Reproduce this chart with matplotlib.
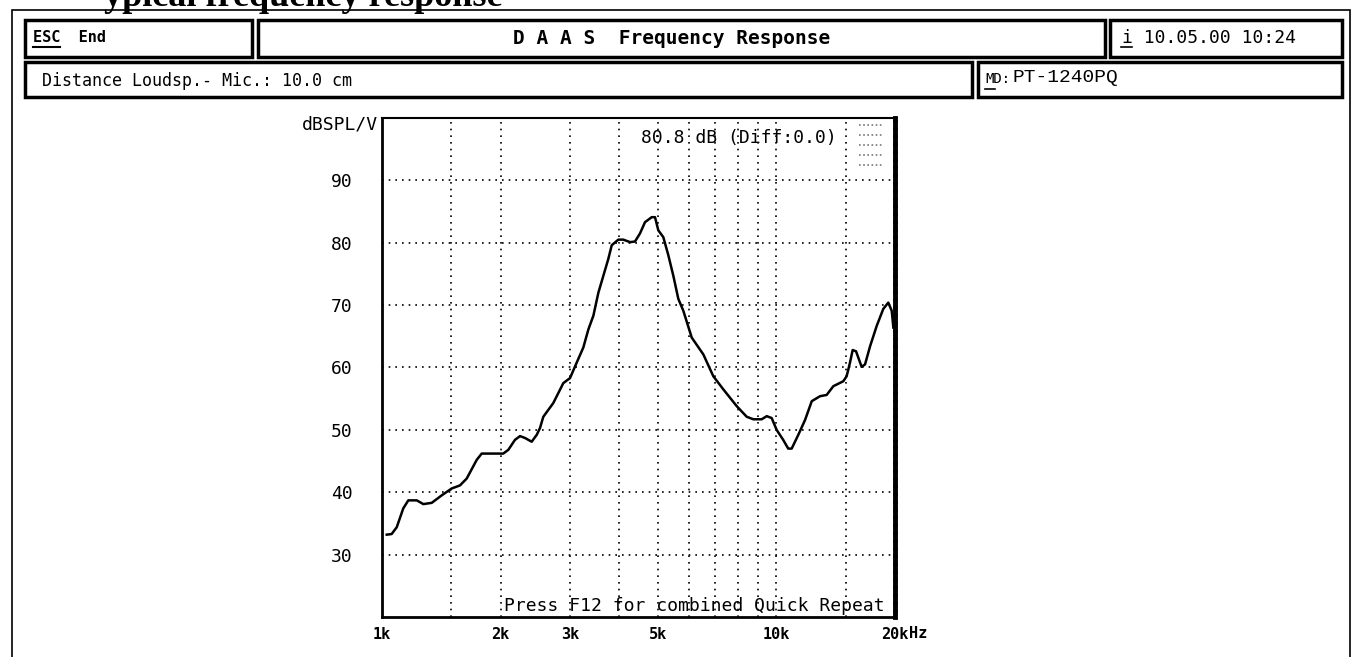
import matplotlib
matplotlib.use('Agg')
import matplotlib.pyplot as plt
from matplotlib.patches import Rectangle
from matplotlib.lines import Line2D
from matplotlib.ticker import NullLocator

W, H = 1354, 657

freq_khz = [1.028, 1.058, 1.090, 1.132, 1.166, 1.225, 1.273, 1.337, 1.417, 1.502,
            1.577, 1.640, 1.739, 1.790, 2.030, 2.091, 2.174, 2.239, 2.305, 2.397,
            2.468, 2.516, 2.565, 2.719, 2.883, 2.998, 3.118, 3.240, 3.337, 3.436,
            3.538, 3.642, 3.749, 3.825, 3.975, 4.093, 4.256, 4.382, 4.512, 4.645,
            4.831, 4.925, 5.020, 5.169, 5.323, 5.481, 5.643, 5.810, 6.102, 6.530,
            6.922, 7.338, 7.938, 8.414, 8.745, 9.184, 9.456, 9.734, 10.02, 10.41,
            10.72, 10.94, 11.37, 11.83, 12.30, 12.91, 13.42, 13.95, 14.79, 15.08,
            15.38, 15.62, 15.93, 16.46, 16.79, 17.29, 17.98, 18.68, 19.23, 19.62,
            19.81]
spl_db = [33.2, 33.3, 34.4, 37.4, 38.7, 38.7, 38.1, 38.3, 39.5, 40.6,
          41.1, 42.2, 45.2, 46.2, 46.2, 46.8, 48.4, 49.0, 48.7, 48.1,
          49.2, 50.3, 52.1, 54.3, 57.5, 58.3, 60.8, 63.2, 66.1, 68.3,
          72.0, 74.7, 77.4, 79.6, 80.5, 80.5, 80.1, 80.2, 81.5, 83.3,
          84.1, 84.1, 82.0, 80.9, 78.0, 74.7, 71.0, 69.1, 64.8, 62.1,
          58.6, 56.5, 53.8, 52.1, 51.7, 51.7, 52.2, 51.9, 50.0, 48.4,
          47.0, 47.0, 49.2, 51.6, 54.6, 55.4, 55.6, 57.0, 57.8, 58.6,
          60.8, 62.8, 62.6, 60.1, 60.5, 63.4, 66.7, 69.4, 70.4, 69.1,
          66.4]

grid_khz = [1.5, 2, 3, 4, 5, 6, 7, 8, 9, 10, 15]
grid_db = [30, 40, 50, 60, 70, 80, 90]
xtick_khz = [1, 2, 3, 5, 10, 20]
xtick_labels = ['1k', '2k', '3k', '5k', '10k', '20k']

MONO = 'DejaVu Sans Mono'


def fx(x):
    return x / W


def fy(y):
    return 1 - y / H


fig = plt.figure(figsize=(W / 100, H / 100), dpi=100)


def box(x0, y0, x1, y1, lw=2.5):
    fig.add_artist(Rectangle((fx(x0), fy(y1)), fx(x1) - fx(x0), fy(y0) - fy(y1),
                             transform=fig.transFigure, fill=False,
                             edgecolor='black', linewidth=lw))


def uline(x0, x1, y, lw=1.5):
    fig.add_artist(Line2D([fx(x0), fx(x1)], [fy(y), fy(y)],
                          transform=fig.transFigure, color='black', linewidth=lw))


# heading of the page, cut off at the top edge of the screen dump
fig.text(fx(104), fy(6), 'ypical frequency response', fontsize=26,
         fontweight='bold', family='Liberation Serif', va='baseline', ha='left')

# screen frame and header boxes
box(12, 10, 1350, 720, lw=1.2)
box(25, 20, 252, 57)
box(258, 20, 1105, 57)
box(1110, 20, 1342, 57)
box(25, 62, 972, 97)
box(978, 62, 1342, 97)

fig.text(fx(33), fy(38), 'ESC  End', fontsize=11, fontweight='bold', family=MONO,
         va='center', ha='left')
uline(33, 60, 47)
fig.text(fx(672), fy(39), 'D A A S  Frequency Response', fontsize=14,
         fontweight='bold', family=MONO, va='center', ha='center')
fig.text(fx(1122), fy(38), 'i 10.05.00 10:24', fontsize=13, family=MONO,
         va='center', ha='left')
uline(1121, 1132, 47, lw=1.2)
fig.text(fx(42), fy(81), 'Distance Loudsp.- Mic.: 10.0 cm', fontsize=12,
         family=MONO, va='center', ha='left')
fig.text(fx(985), fy(79), 'MD:', fontsize=10, family=MONO, va='center', ha='left')
uline(985, 995, 89, lw=1.2)
fig.text(fx(1013), fy(77), 'PT-1240PQ', fontsize=14, family='Liberation Mono',
         va='center', ha='left')

# plot area
ax = fig.add_axes([fx(382), fy(617), fx(895) - fx(382), fy(118) - fy(617)])
ax.set_xscale('log')
ax.set_xlim(1000, 20000)
ax.set_ylim(20, 100)

for g in grid_khz:
    ax.axvline(g * 1000, color='black', linestyle=(0, (1, 3)), linewidth=1.2)
for g in grid_db:
    ax.axhline(g, color='black', linestyle=(0, (1, 3)), linewidth=1.2)

ax.plot([f * 1000 for f in freq_khz], spl_db, color='black', linewidth=1.8)

ax.set_xticks([f * 1000 for f in xtick_khz])
ax.set_xticklabels(xtick_labels, family=MONO, fontsize=11, fontweight='bold')
ax.xaxis.set_minor_locator(NullLocator())
ax.set_yticks(grid_db)
ax.set_yticklabels([str(v) for v in grid_db], family=MONO, fontsize=13)
ax.tick_params(axis='both', length=0)
ax.tick_params(axis='y', pad=21)
ax.tick_params(axis='x', pad=7)
ax.annotate('Hz', xy=(20000, 0), xycoords=('data', 'axes fraction'),
            xytext=(10, -12), textcoords='offset points', family=MONO,
            fontsize=11, fontweight='bold', ha='left', va='center')

for side in ['left', 'bottom']:
    ax.spines[side].set_linewidth(2)
ax.spines['top'].set_linewidth(1.5)
ax.spines['right'].set_linewidth(3.5)
ax.spines['right'].set_linestyle((0, (1, 0.6)))

ax.text(-0.008, 0.986, 'dBSPL/V', transform=ax.transAxes, family=MONO,
        fontsize=13, ha='right', va='center')
ax.text(0.505, 0.96, '80.8 dB (Diff:0.0)', transform=ax.transAxes, family=MONO,
        fontsize=13, ha='left', va='center')
ax.text(0.98, 0.004, 'Press F12 for combined Quick Repeat', transform=ax.transAxes,
        family=MONO, fontsize=13, ha='right', va='bottom')

# small scale marker in the top right corner
for yy in [0.985, 0.965, 0.945, 0.925, 0.905]:
    ax.plot([0.93, 0.975], [yy, yy], transform=ax.transAxes, color='#777777',
            linestyle=(0, (1, 1.5)), linewidth=1.2)

fig.savefig('out.png', dpi=100)
